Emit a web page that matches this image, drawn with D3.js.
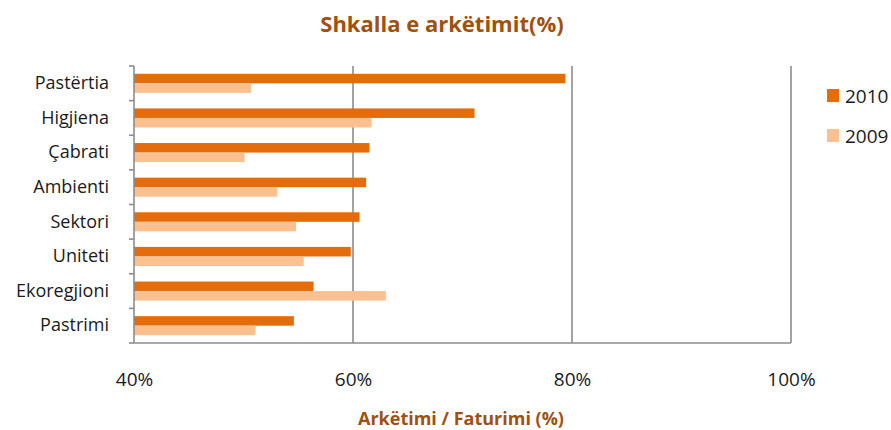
<!DOCTYPE html>
<html>
<head>
<meta charset="utf-8">
<script src="https://cdn.jsdelivr.net/npm/d3@7"></script>
<style>
  body { margin: 0; background: #fff; }
  svg text { font-family: "Open Sans", Lato, sans-serif; }
</style>
</head>
<body>
<svg id="chart" width="891" height="430"></svg>
<script>
// === Dane ===
const categories = ["Pastërtia", "Higjiena", "Çabrati", "Ambienti", "Sektori", "Uniteti", "Ekoregjioni", "Pastrimi"];
const series = ["2010", "2009"];
const values2010 = [79.4, 71.1, 61.5, 61.2, 60.6, 59.8, 56.4, 54.6];
const values2009 = [50.7, 61.7, 50.1, 53.1, 54.8, 55.5, 63.0, 51.1];
const xTicks = [40, 60, 80, 100];
const colors = { "2010": "#E46C0A", "2009": "#FAC090" };

const svg = d3.select("#chart");
const plotL = 134, plotR = 791, plotT = 66, plotB = 343;

const x = d3.scaleLinear().domain([40, 100]).range([plotL, plotR]);
const y = d3.scaleBand().domain(categories).range([plotT, plotB]).paddingInner(0.45).paddingOuter(0.225);
const ySub = d3.scaleBand().domain(series).range([0, y.bandwidth()]);

// gridlines
svg.append("g").selectAll("line")
  .data(xTicks.slice(1))
  .enter().append("line")
  .attr("x1", d => x(d)).attr("x2", d => x(d))
  .attr("y1", plotT).attr("y2", plotB)
  .attr("stroke", "#8c8c8c").attr("stroke-width", 1.6);

// bars
const rows = categories.map((c, i) => ({ cat: c, "2010": values2010[i], "2009": values2009[i] }));
const groups = svg.append("g").selectAll("g")
  .data(rows)
  .enter().append("g")
  .attr("transform", d => `translate(0,${y(d.cat)})`);
groups.selectAll("rect")
  .data(d => series.map(s => ({ s, v: d[s] })))
  .enter().append("rect")
  .attr("x", x(40))
  .attr("y", d => ySub(d.s))
  .attr("width", d => x(d.v) - x(40))
  .attr("height", ySub.bandwidth())
  .attr("fill", d => colors[d.s]);

// osie
const yAxis = svg.append("g").attr("transform", `translate(${plotL},0)`)
  .call(d3.axisLeft(y).tickSize(0).tickPadding(25).tickFormat(d => d));
yAxis.select(".domain").remove();
yAxis.selectAll("text").attr("font-size", 18).attr("fill", "#1a1a1a");

// y ticks at band boundaries
const bounds = d3.range(categories.length + 1).map(i => plotT + i * (plotB - plotT) / categories.length);
svg.append("g").selectAll("line").data(bounds).enter().append("line")
  .attr("x1", plotL - 5).attr("x2", plotL).attr("y1", d => d).attr("y2", d => d)
  .attr("stroke", "#8c8c8c").attr("stroke-width", 1.6);
svg.append("line").attr("x1", plotL).attr("x2", plotL).attr("y1", plotT).attr("y2", plotB)
  .attr("stroke", "#8c8c8c").attr("stroke-width", 1.6);
svg.append("line").attr("x1", plotL).attr("x2", plotR).attr("y1", plotB).attr("y2", plotB)
  .attr("stroke", "#8c8c8c").attr("stroke-width", 1.6);

const xAxis = svg.append("g").attr("transform", `translate(0,${plotB})`)
  .call(d3.axisBottom(x).tickValues(xTicks).tickSize(0).tickPadding(30).tickFormat(d => d + "%"));
xAxis.select(".domain").remove();
xAxis.selectAll("text").attr("font-size", 19).attr("fill", "#1a1a1a");

// tytuły
svg.append("text").attr("x", 442).attr("y", 32).attr("text-anchor", "middle")
  .attr("font-size", 22).attr("font-weight", "bold").attr("fill", "#A0500F")
  .text("Shkalla e arkëtimit(%)");
svg.append("text").attr("x", 461).attr("y", 425).attr("text-anchor", "middle")
  .attr("font-size", 18).attr("font-weight", "bold").attr("fill", "#A0500F")
  .text("Arkëtimi / Faturimi (%)");

// legenda
const legend = svg.append("g").selectAll("g").data(series).enter().append("g")
  .attr("transform", (d, i) => `translate(827,${89 + i * 40})`);
legend.append("rect").attr("width", 12).attr("height", 13).attr("fill", d => colors[d]);
legend.append("text").attr("x", 18).attr("y", 14).attr("font-size", 19).attr("fill", "#1a1a1a").text(d => d);
</script>
</body>
</html>
